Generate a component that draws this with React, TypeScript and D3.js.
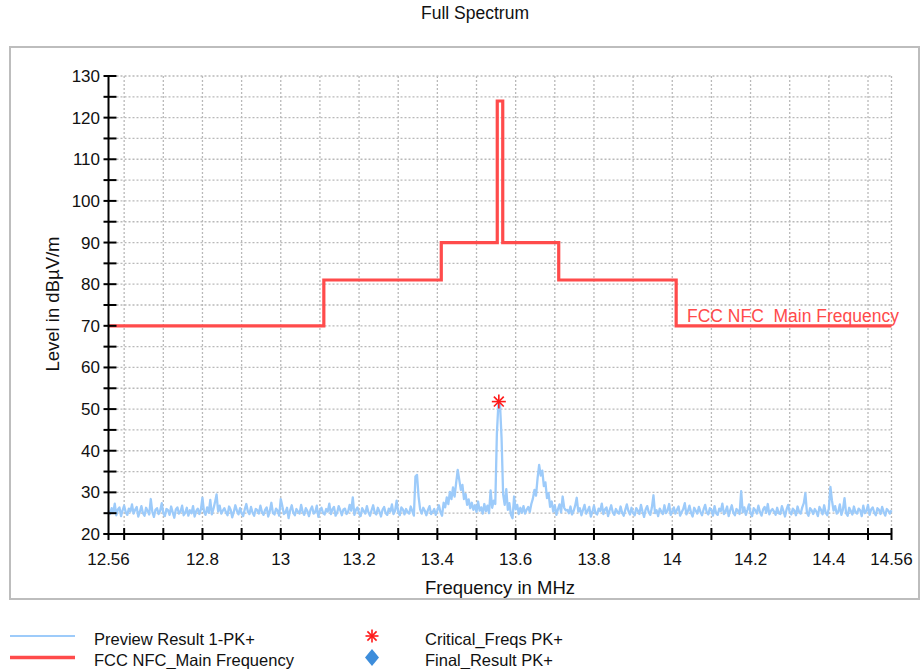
import React from 'react';
import * as d3 from 'd3';

// Sweep definition (MHz)
const FREQ_START = 12.56;
const FREQ_STEP = 0.004;

// Preview Result 1-PK+ levels (dBµV/m)
const previewLevels: number[] = [
  25.6,24.8,26.2,25.1,27.3,24.5,25.9,26.4,24.3,25.7,26.8,25.2,24.6,26.1,25.4,27.1,24.9,25.8,26.5,24.2,25.3,26.7,25.0,24.4,26.3,
  25.5,24.7,28.4,25.3,24.1,25.8,26.2,24.8,25.6,27.4,25.0,24.3,26.0,25.7,24.6,26.6,25.2,23.9,25.9,26.4,24.9,25.4,26.8,24.5,25.1,
  26.3,24.4,25.7,25.0,26.7,24.2,25.5,26.1,24.8,25.9,28.7,25.3,24.6,26.4,25.1,28.2,24.7,26.0,27.6,29.5,25.4,26.8,24.9,25.6,26.2,
  25.2,24.5,26.6,25.8,24.0,25.3,26.9,25.6,24.7,26.2,25.0,24.3,25.9,27.2,25.4,24.8,26.5,25.1,24.4,26.0,25.7,24.9,26.8,25.3,24.6,
  25.8,26.4,24.2,25.5,27.5,25.0,24.7,26.1,25.6,24.4,28.4,26.7,24.8,25.2,26.3,23.8,25.7,26.9,25.1,24.5,26.0,25.4,24.9,27.0,25.3,
  24.6,26.2,25.5,24.3,25.8,26.6,24.9,25.2,26.8,24.1,25.6,26.3,25.0,24.7,26.0,25.4,27.3,24.8,25.9,26.5,24.4,25.1,26.7,25.7,24.5,
  25.9,26.1,24.8,25.3,27.0,25.6,28.8,24.6,25.8,26.4,25.0,24.3,26.2,25.5,24.9,26.7,25.2,24.4,25.7,26.9,25.1,24.7,26.3,25.4,24.2,
  25.8,26.5,25.0,24.6,26.1,25.4,27.1,24.8,25.6,28.0,25.3,24.5,26.4,25.9,24.7,26.0,25.2,24.9,26.6,25.5,24.4,33.8,34.2,29.0,25.9,
  24.9,26.3,25.6,24.5,25.8,26.7,24.8,25.3,26.0,24.6,25.7,26.9,25.2,24.4,27.5,26.4,28.8,27.2,30.1,28.4,31.2,29.0,32.3,35.4,33.0,
  30.6,31.8,28.4,29.6,27.0,28.3,26.2,27.5,25.8,26.9,25.3,27.8,25.6,26.4,24.9,27.2,25.5,26.8,25.0,30.5,26.3,28.0,27.2,44.0,51.5,
  51.2,43.0,29.5,27.0,30.8,25.8,27.4,24.6,23.8,29.0,25.9,27.0,24.8,26.3,25.1,26.7,24.9,25.8,26.5,25.3,27.2,28.5,30.6,29.2,33.4,
  36.6,34.0,35.2,31.5,32.4,28.6,29.8,26.5,27.8,25.4,26.9,24.6,25.9,27.1,25.2,29.0,26.3,25.7,25.8,25.0,26.6,24.7,25.5,26.8,28.7,
  25.4,26.2,24.5,25.8,27.0,24.9,25.6,26.5,24.2,25.3,26.8,25.0,24.7,26.1,25.5,27.3,24.8,25.9,26.4,24.3,25.7,26.9,25.2,24.6,26.0,
  25.3,24.9,26.6,25.1,24.4,25.8,27.1,25.5,24.7,26.3,25.0,24.5,26.2,25.6,24.8,27.0,25.4,24.1,25.9,26.7,25.2,24.6,26.4,29.3,25.0,
  25.7,24.3,26.1,25.4,24.8,26.9,25.0,25.6,27.2,24.6,25.3,26.4,24.9,25.8,26.6,24.4,25.2,26.0,27.4,24.7,25.5,26.8,25.1,24.2,26.3,
  25.6,24.9,26.5,25.3,24.5,25.9,27.0,25.2,24.7,26.2,25.8,24.4,26.7,25.0,24.6,26.1,25.5,27.3,24.8,25.4,26.6,24.3,25.7,26.9,25.1,
  24.5,26.0,25.6,24.8,30.3,25.2,26.4,24.6,25.8,27.1,25.0,24.3,26.2,25.7,24.9,26.8,25.3,24.4,25.9,26.5,25.1,27.2,24.7,25.6,26.0,
  25.4,24.6,26.3,25.0,24.8,26.7,25.5,24.2,25.9,27.0,25.2,24.7,26.1,25.6,24.5,26.6,25.3,24.9,26.4,27.4,29.8,25.1,24.4,26.2,25.7,
  24.8,26.0,25.4,24.3,26.5,25.8,24.7,26.9,25.1,24.5,26.2,31.3,28.0,25.6,26.7,24.9,25.3,27.1,24.6,25.9,28.6,25.0,24.4,26.3,25.5,
  24.7,26.6,25.2,24.9,26.1,25.7,24.3,26.8,25.0,25.5,27.0,24.6,25.9,26.4,25.1,24.5,26.2,25.8,24.8,26.5,25.3,24.4,26.0,25.6,24.9,25.7,
];

// FCC NFC_Main Frequency limit (step line)
const limitFreqs = [12.56, 13.11, 13.11, 13.41, 13.41, 13.553, 13.553, 13.567, 13.567, 13.71, 13.71, 14.01, 14.01, 14.56];
const limitLevels = [70, 70, 81, 81, 90, 90, 124, 124, 90, 90, 81, 81, 70, 70];

// Critical_Freqs PK+
const criticalFreqs = [13.557];
const criticalLevels = [51.8];

const xTickLabels = [12.56, 12.8, 13, 13.2, 13.4, 13.6, 13.8, 14, 14.2, 14.4, 14.56];
const yTickLabels = [20, 30, 40, 50, 60, 70, 80, 90, 100, 110, 120, 130];
const xGridFreqs = [12.6, 12.7, 12.8, 12.9, 13.0, 13.1, 13.2, 13.3, 13.4, 13.5, 13.6, 13.7, 13.8, 13.9, 14.0, 14.1, 14.2, 14.3, 14.4, 14.5, 14.56];
const yGridLevels = [25, 30, 35, 40, 45, 50, 55, 60, 65, 70, 75, 80, 85, 90, 95, 100, 105, 110, 115, 120, 125, 130];

const legendLeft = ['Preview Result 1-PK+', 'FCC NFC_Main Frequency'];
const legendRight = ['Critical_Freqs PK+', 'Final_Result PK+'];

const FONT = '"Liberation Sans", Arial, Helvetica, sans-serif';
const BLUE = '#9dcbfa';
const RED = '#ff4b4b';

function Asterisk({ cx, cy, r }: { cx: number; cy: number; r: number }) {
  const angles = [0, 45, 90, 135];
  return (
    <g stroke="#ff1a1a" strokeWidth={1.6}>
      {angles.map((a) => {
        const rad = (a * Math.PI) / 180;
        const dx = Math.sin(rad) * r;
        const dy = Math.cos(rad) * r;
        return <line key={a} x1={cx - dx} y1={cy - dy} x2={cx + dx} y2={cy + dy} />;
      })}
    </g>
  );
}

export default function App() {
  const W = 922;
  const H = 669;
  const x = d3.scaleLinear().domain([12.56, 14.56]).range([108.5, 891.5]);
  const y = d3.scaleLinear().domain([20, 130]).range([534, 76]);

  const previewPts: [number, number][] = previewLevels.map((v, i) => [FREQ_START + i * FREQ_STEP, v]);
  const line = d3
    .line<[number, number]>()
    .x((d) => x(d[0]))
    .y((d) => y(d[1]));
  const limitPts: [number, number][] = limitFreqs.map((f, i) => [f, limitLevels[i]]);

  const x0 = x.range()[0];
  const x1 = x.range()[1];
  const yb = y.range()[0];
  const yt = y.range()[1];

  return (
    <svg
      width={W}
      height={H}
      style={{ position: 'absolute', left: 0, top: 0, background: '#fff', fontFamily: FONT }}
    >
      <rect x={0} y={0} width={W} height={H} fill="#fff" />
      <text x={475} y={19} textAnchor="middle" fontSize={17.5} fill="#111">
        Full Spectrum
      </text>
      <rect x={10} y={47} width={909} height={552} fill="none" stroke="#bdbdbd" strokeWidth={2} />

      {/* grid */}
      <g stroke="#b9b9b9" strokeWidth={1.3} strokeDasharray="2,2">
        {xGridFreqs.map((f) => (
          <line key={'gx' + f} x1={x(f)} x2={x(f)} y1={yt} y2={yb} />
        ))}
        {yGridLevels.map((v) => (
          <line key={'gy' + v} x1={x0} x2={x1} y1={y(v)} y2={y(v)} />
        ))}
      </g>

      {/* preview trace */}
      <path d={line(previewPts) || ''} fill="none" stroke={BLUE} strokeWidth={2.3} strokeLinejoin="round" />

      {/* limit line */}
      <path d={line(limitPts) || ''} fill="none" stroke={RED} strokeWidth={3.2} />
      <text x={687} y={321.5} fontSize={17.5} fill={RED} style={{ whiteSpace: 'pre' }}>
        {'FCC NFC  Main Frequency'}
      </text>

      {/* critical marker */}
      {criticalFreqs.map((f, i) => (
        <Asterisk key={'c' + i} cx={x(f)} cy={y(criticalLevels[i])} r={7} />
      ))}

      {/* axes */}
      <g stroke="#000" strokeWidth={2}>
        <line x1={x0} x2={x0} y1={yt - 1} y2={yb + 6} />
        <line x1={x0 - 5} x2={x1} y1={yb} y2={yb} />
        {d3.range(20, 131, 5).map((v) => (
          <line key={'ty' + v} x1={x0 - 5} x2={x0 + 8} y1={y(v)} y2={y(v)} />
        ))}
        {xGridFreqs.map((f) => (
          <line key={'tx' + f} x1={x(f)} x2={x(f)} y1={yb - 6} y2={yb + 6} />
        ))}
      </g>
      <g fontSize={17} fill="#111">
        {yTickLabels.map((v) => (
          <text key={'ly' + v} x={100} y={y(v) + 6} textAnchor="end">
            {v}
          </text>
        ))}
        {xTickLabels.map((f) => (
          <text key={'lx' + f} x={x(f)} y={565} textAnchor="middle">
            {f}
          </text>
        ))}
      </g>
      <text x={500} y={594} textAnchor="middle" fontSize={18.5} fill="#111">
        Frequency in MHz
      </text>
      <text transform="translate(59,304) rotate(-90)" textAnchor="middle" fontSize={18.5} fill="#111">
        Level in dBµV/m
      </text>

      {/* legend */}
      <line x1={10} x2={75} y1={636} y2={636} stroke={BLUE} strokeWidth={2} />
      <line x1={10} x2={75} y1={657.5} y2={657.5} stroke={RED} strokeWidth={3.5} />
      <g fontSize={16.5} fill="#111">
        <text x={94} y={645}>{legendLeft[0]}</text>
        <text x={94} y={666}>{legendLeft[1]}</text>
        <text x={425} y={645}>{legendRight[0]}</text>
        <text x={425} y={666}>{legendRight[1]}</text>
      </g>
      <Asterisk cx={372} cy={636} r={6.5} />
      <path d="M372,649 L379,657.5 L372,666 L365,657.5 Z" fill="#3d8ddb" />
    </svg>
  );
}
